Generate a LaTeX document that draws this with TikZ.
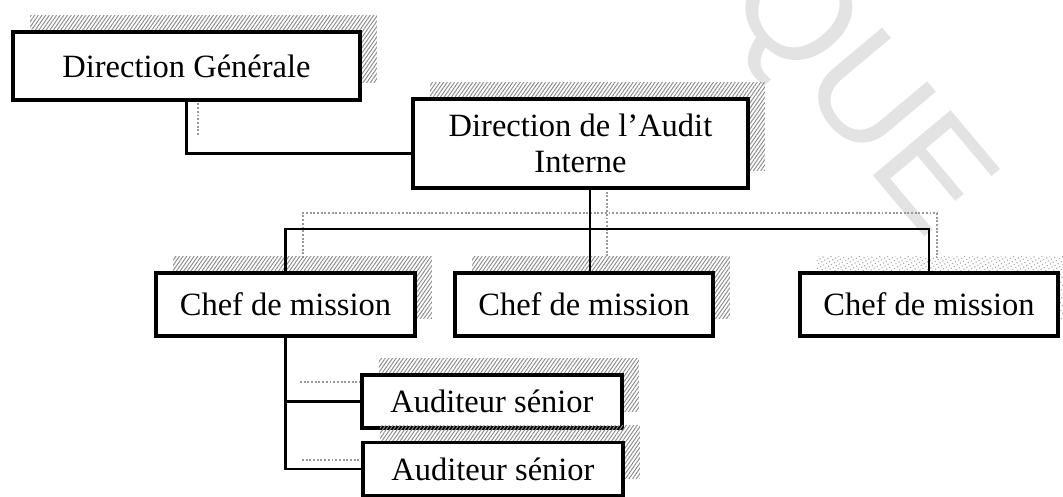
\documentclass[tikz,border=0pt]{standalone}
\usepackage{fontspec}
\setmainfont{Liberation Serif}
\newfontfamily\wmfont{Liberation Sans}
\usetikzlibrary{shadows, patterns, patterns.meta, calc}

\begin{document}
\begin{tikzpicture}[x=0.02cm, y=-0.02cm,
  box/.style={draw, line width=2.1pt, fill=white, inner sep=0pt, align=center,
    font=\fontsize{18.5}{20.5}\selectfont},
  hatched/.style={general shadow={shadow xshift=0.34cm, shadow yshift=0.34cm,
    pattern={Lines[angle=55, distance=1.7pt, line width=0.55pt]}, pattern color=gray!90}},
  dotshadow/.style={general shadow={shadow xshift=0.34cm, shadow yshift=0.34cm,
    pattern={Dots[angle=30, distance=2pt, radius=0.45pt]}, pattern color=gray!70}},
  conn/.style={line width=1.7pt},
  connshadow/.style={gray!80, densely dotted, line width=1.1pt}]
\useasboundingbox (0,0) rectangle (1063,497);

% Watermark
\node[text=gray!22, font=\wmfont\fontsize{84}{84}\selectfont, rotate=-50] (wm) at (855,95) {QUE};

% Connector shadows
\coordinate (sdg1) at (198,85);
\coordinate (sdg2) at (198,135);
\coordinate (sbl) at (303,213);
\coordinate (sbr) at (937,213);
\draw[connshadow] (sdg1) -- (sdg2);
\draw[connshadow] (303,258) -- (sbl) -- (sbr) -- (937,258);
\draw[connshadow] (607,188) -- (607,258);
\draw[connshadow] (300,382) -- (362,382);
\draw[connshadow] (302,460) -- (378,460);

% Top level
\node[box, hatched, minimum width=6.94cm, minimum height=1.36cm] (dg) at (186.5,66) {Direction Générale};
\node[box, hatched, minimum width=6.7cm, minimum height=1.78cm] (dai) at (580.5,143.5) {Direction de l'Audit\\Interne};

% Chefs de mission
\node[box, hatched, minimum width=5.18cm, minimum height=1.26cm] (c1) at (285.5,304.5) {Chef de mission};
\node[box, hatched, minimum width=5.16cm, minimum height=1.26cm] (c2) at (584,304.5) {Chef de mission};
\node[box, dotshadow, minimum width=5.16cm, minimum height=1.26cm] (c3) at (929,304.5) {Chef de mission};

% Auditeurs
\node[box, hatched, minimum width=5.2cm, minimum height=1.06cm] (a1) at (492,401.5) {Auditeur sénior};
\node[box, hatched, minimum width=5.2cm, minimum height=1.06cm] (a2) at (493,469) {Auditeur sénior};

% Connectors
\coordinate (bus) at (590,229);
\draw[conn] (dg.south) |- ([yshift=-0.2cm]dai.west);
\draw[conn] (dai.south -| bus) -- (c2.north -| bus);
\draw[conn] (c1.north) |- (bus) -| (c3.north);
\draw[conn] (c1.south) |- (a2.west);
\draw[conn] (c1.south |- a1.west) -- (a1.west);
\end{tikzpicture}
\end{document}
